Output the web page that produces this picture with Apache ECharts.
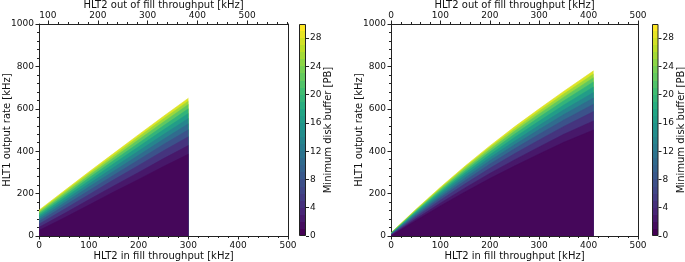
<!DOCTYPE html>
<html>
<head>
<meta charset="utf-8">
<script src="https://cdn.jsdelivr.net/npm/echarts@6/dist/echarts.min.js"></script>
<style>
html,body{margin:0;padding:0;background:#fff;}
#c{width:685px;height:262px;}
</style>
</head>
<body>
<div id="c"></div>
<script>
// ---------------- data ----------------
// contour levels of the minimum disk buffer [PB]
const levels = [1, 3, 6, 9, 12, 15, 18, 21, 24, 27, 30];

// left panel: HLT2 in-fill throughput [kHz] sample positions
const xLeft = [0, 50, 100, 150, 200, 250, 300];
// HLT1 output rate [kHz] at which the buffer reaches each level
const L01 = [26, 85, 146, 208, 267, 328, 386];
const L03 = [41, 105, 171, 236, 300, 365, 427];
const L06 = [56, 125, 195, 265, 333, 402, 468];
const L09 = [68, 141, 214, 287, 359, 432, 501];
const L12 = [78, 154, 231, 306, 381, 456, 529];
const L15 = [87, 166, 245, 323, 401, 479, 554];
const L18 = [96, 178, 260, 341, 421, 501, 578];
const L21 = [104, 188, 273, 356, 438, 520, 600];
const L24 = [111, 197, 284, 369, 454, 538, 620];
const L27 = [117, 205, 294, 380, 467, 553, 636];
const L30 = [122, 212, 302, 390, 478, 565, 650];

// right panel
const xRight = [0, 50, 100, 150, 200, 250, 300, 350, 410];
const R01 = [0.6, 72, 142, 208, 271, 330, 387, 442, 500];
const R03 = [2.9, 80, 155, 227, 295, 359, 420, 480, 543];
const R06 = [5.1, 89, 169, 246, 319, 388, 453, 517, 587];
const R09 = [6.9, 95, 180, 261, 339, 411, 480, 547, 622];
const R12 = [8.4, 101, 189, 274, 355, 430, 502, 573, 651];
const R15 = [9.8, 106, 198, 286, 369, 447, 522, 595, 677];
const R18 = [11.1, 111, 206, 297, 383, 465, 542, 618, 703];
const R21 = [12.3, 115, 213, 307, 396, 480, 560, 638, 727];
const R24 = [13.4, 119, 220, 316, 407, 494, 576, 655, 747];
const R27 = [14.3, 122, 225, 324, 417, 505, 589, 670, 764];
const R30 = [15, 125, 230, 330, 425, 515, 600, 683, 779];

// tick labels
const xTicks = [0, 100, 200, 300, 400, 500];
const yTicks = [0, 200, 400, 600, 800, 1000];
const topTicksLeft = [100, 200, 300, 400, 500];
const topOffsetLeft = 82;          // out-of-fill value at in-fill = 0
const cbTicks = [0, 4, 8, 12, 16, 20, 24, 28];
const cbMax = 30;
const cbBands = 30;

// ---------------- style helpers ----------------
const VIR = ['#440154','#482475','#414487','#355f8d','#2a788e','#21918c',
             '#22a884','#44bf70','#7ad151','#bddf26','#fde725'];
function hex2rgb(h){return [parseInt(h.substr(1,2),16),parseInt(h.substr(3,2),16),parseInt(h.substr(5,2),16)];}
function viridis(t){
  t = Math.max(0, Math.min(1, t));
  const p = t * (VIR.length - 1);
  const i = Math.min(Math.floor(p), VIR.length - 2);
  const f = p - i;
  const a = hex2rgb(VIR[i]), b = hex2rgb(VIR[i+1]);
  const c = a.map((v,k)=>Math.round(v + (b[k]-v)*f));
  return 'rgb(' + c.join(',') + ')';
}

const FONT = 'DejaVu Sans';
const TXT = '#111';
const LINE = '#222';
const tickFont = 9;
const nameFont = 10;
const plain = v => String(v);

function bandSeries(xs, arrs, xi, yi){
  // draw from the highest level down, so lower bands paint over
  const out = [];
  for (let k = arrs.length - 1; k >= 0; k--){
    const lo = k === 0 ? 0 : levels[k-1];
    const hi = levels[k];
    const col = viridis(((lo + hi) / 2) / cbMax);
    out.push({
      type: 'line', xAxisIndex: xi, yAxisIndex: yi,
      data: xs.map((x,i)=>[x, arrs[k][i]]),
      symbol: 'none', silent: true, animation: false,
      lineStyle: {width: 0.6, color: col},
      areaStyle: {color: col, opacity: 1},
      z: 2
    });
  }
  return out;
}

function cbGradient(){
  const stops = [];
  for (let i = 0; i < cbBands; i++){
    const c = viridis(i / (cbBands - 1));
    stops.push({offset: i / cbBands, color: c});
    stops.push({offset: (i + 1) / cbBands, color: c});
  }
  return new echarts.graphic.LinearGradient(0, 1, 0, 0, stops);
}

const axisLineStyle = {show: true, onZero: false, lineStyle: {color: LINE, width: 1}};
const lbl = {color: TXT, fontFamily: FONT, fontSize: tickFont, formatter: plain};
const nameStyle = {color: TXT, fontFamily: FONT, fontSize: nameFont};

function bottomX(grid){
  return {type:'value', gridIndex: grid, position:'bottom', min: 0, max: 500, interval: 100,
    axisLine: axisLineStyle, axisTick: {show: true, length: 3.5, lineStyle:{color:LINE}},
    minorTick: {show: true, splitNumber: 5, length: 2, lineStyle:{color:LINE}},
    axisLabel: Object.assign({margin: 5}, lbl), splitLine: {show:false},
    name: 'HLT2 in fill throughput [kHz]', nameLocation: 'middle', nameGap: 15,
    nameMoveOverlap: false, nameTextStyle: nameStyle};
}
function leftY(grid){
  return {type:'value', gridIndex: grid, position:'left', min: 0, max: 1000, interval: 200,
    axisLine: axisLineStyle, axisTick: {show: true, length: 3.5, lineStyle:{color:LINE}},
    minorTick: {show: true, splitNumber: 5, length: 2, lineStyle:{color:LINE}},
    axisLabel: Object.assign({margin: 5}, lbl), splitLine: {show:false},
    name: 'HLT1 output rate [kHz]', nameLocation: 'middle', nameGap: 27, nameRotate: 90,
    nameMoveOverlap: false, nameTextStyle: nameStyle};
}
function rightSpine(grid){
  return {type:'value', gridIndex: grid, position:'right', min: 0, max: 1000,
    axisLine: axisLineStyle, axisTick:{show:false}, axisLabel:{show:false}, splitLine:{show:false}};
}
function cbX(grid){
  return {type:'category', gridIndex: grid, data: ['cb'], show: false};
}
function cbY(grid){
  return {type:'value', gridIndex: grid, position:'right', min: 0, max: cbMax,
    axisLine: {show:false, onZero:false},
    axisTick: {show: true, length: 3, lineStyle:{color:LINE}, customValues: cbTicks},
    axisLabel: Object.assign({margin: 4, customValues: cbTicks}, lbl),
    splitLine:{show:false},
    name: 'Minimum disk buffer [PB]', nameLocation: 'middle', nameGap: 17.5, nameRotate: 90,
    nameMoveOverlap: false, nameTextStyle: nameStyle};
}

const topMinorLeft = [];
for (let v = 100; v <= 580; v += 20) if (topTicksLeft.indexOf(v) < 0) topMinorLeft.push(v);

const gridBase = {containLabel: false, outerBoundsMode: 'none'};
const option = {
  backgroundColor: '#fff',
  animation: false,
  grid: [
    Object.assign({left: 39, top: 24, width: 249, height: 212}, gridBase),
    Object.assign({left: 391, top: 24, width: 247, height: 212}, gridBase),
    Object.assign({left: 299, top: 24, width: 7, height: 212}, gridBase),
    Object.assign({left: 652, top: 24, width: 6.5, height: 212}, gridBase)
  ],
  xAxis: [
    bottomX(0),
    {type:'value', gridIndex:0, position:'top', min: topOffsetLeft, max: 500 + topOffsetLeft,
      axisLine: axisLineStyle,
      axisTick: {show: true, length: 3.5, lineStyle:{color:LINE}, customValues: topTicksLeft},
      axisLabel: Object.assign({margin: 4, customValues: topTicksLeft}, lbl), splitLine:{show:false},
      name: 'HLT2 out of fill throughput [kHz]', nameLocation:'middle', nameGap: 14,
      nameMoveOverlap: false, nameTextStyle: nameStyle},
    {type:'value', gridIndex:0, position:'top', min: topOffsetLeft, max: 500 + topOffsetLeft,
      axisLine: {show:false, onZero:false},
      axisTick: {show: true, length: 2, lineStyle:{color:LINE}, customValues: topMinorLeft},
      axisLabel: {show:false}, splitLine:{show:false}},
    bottomX(1),
    {type:'value', gridIndex:1, position:'top', min: 0, max: 500, interval: 100,
      axisLine: axisLineStyle, axisTick: {show: true, length: 3.5, lineStyle:{color:LINE}},
      minorTick: {show: true, splitNumber: 5, length: 2, lineStyle:{color:LINE}},
      axisLabel: Object.assign({margin: 4}, lbl), splitLine:{show:false},
      name: 'HLT2 out of fill throughput [kHz]', nameLocation:'middle', nameGap: 14,
      nameMoveOverlap: false, nameTextStyle: nameStyle},
    cbX(2), cbX(3)
  ],
  yAxis: [
    leftY(0), rightSpine(0), leftY(1), rightSpine(1), cbY(2), cbY(3)
  ],
  series: [].concat(
    bandSeries(xLeft, [L01,L03,L06,L09,L12,L15,L18,L21,L24,L27,L30], 0, 0),
    bandSeries(xRight, [R01,R03,R06,R09,R12,R15,R18,R21,R24,R27,R30], 3, 2),
    [
      {type:'bar', xAxisIndex:5, yAxisIndex:4, data:[cbMax], barWidth: 7, silent:true,
        itemStyle:{color: cbGradient(), borderColor: LINE, borderWidth: 1}},
      {type:'bar', xAxisIndex:6, yAxisIndex:5, data:[cbMax], barWidth: 6.5, silent:true,
        itemStyle:{color: cbGradient(), borderColor: LINE, borderWidth: 1}}
    ]
  )
};

const chart = echarts.init(document.getElementById('c'), null, {renderer: 'canvas'});
chart.setOption(option);
</script>
</body>
</html>
